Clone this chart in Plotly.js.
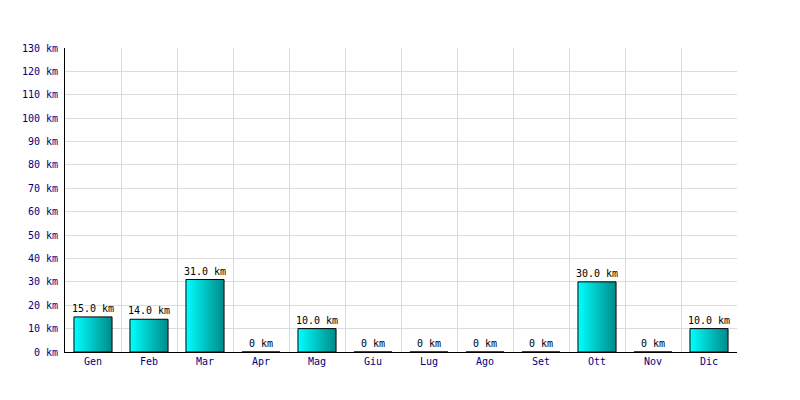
<!DOCTYPE html>
<html>
<head>
<meta charset="utf-8">
<script src="https://cdn.plot.ly/plotly-3.0.1.min.js"></script>
<style>html,body{margin:0;padding:0;background:#fff;}#chart{width:800px;height:400px;}</style>
</head>
<body>
<div id="chart"></div>
<script>
const months = ["Gen","Feb","Mar","Apr","Mag","Giu","Lug","Ago","Set","Ott","Nov","Dic"];
const distances = [15, 14, 31, 0, 10, 0, 0, 0, 0, 30, 0, 10];
const yTicks = [0,10,20,30,40,50,60,70,80,90,100,110,120,130];
const yTickLabels = yTicks.map(v => v + " km");

const labels = distances.map(v => v === 0 ? "0 km" : v.toFixed(1) + " km");
const font = "DejaVu Sans Mono, monospace";

const trace = {
  type: "bar",
  x: months,
  y: distances,
  text: labels,
  textposition: "outside",
  constraintext: "none",
  cliponaxis: false,
  textfont: {family: font, size: 10, color: "#000000"},
  outsidetextfont: {family: font, size: 10, color: "#000000"},
  marker: {color: "#00c8c8", line: {color: "#000000", width: 1}},
  width: 0.68,
  hoverinfo: "none"
};

const layout = {
  width: 800, height: 400,
  margin: {l: 65, r: 63, t: 48, b: 48},
  paper_bgcolor: "#ffffff",
  plot_bgcolor: "#ffffff",
  showlegend: false,
  font: {family: font, size: 10, color: "#000080"},
  xaxis: {
    type: "category",
    tickson: "boundaries",
    showgrid: true, gridcolor: "#dcdcdc", gridwidth: 1,
    showline: true, linecolor: "#000000", linewidth: 1,
    ticks: "", zeroline: false,
    tickfont: {family: font, size: 10, color: "#000080"},
    range: [-0.5, 11.5]
  },
  yaxis: {
    range: [0, 130],
    tickmode: "array",
    tickvals: yTicks,
    ticktext: yTickLabels,
    ticklabelstandoff: 4,
    showgrid: true, gridcolor: "#dcdcdc", gridwidth: 1,
    showline: true, linecolor: "#000000", linewidth: 1,
    zeroline: false, ticks: "",
    tickfont: {family: font, size: 10, color: "#000080"}
  }
};

Plotly.newPlot("chart", [trace], layout, {displayModeBar: false, staticPlot: true}).then(function(gd){
  const svg = gd.querySelector("svg.main-svg");
  const ns = "http://www.w3.org/2000/svg";
  let defs = svg.querySelector("defs");
  if (!defs) { defs = document.createElementNS(ns, "defs"); svg.insertBefore(defs, svg.firstChild); }
  const grad = document.createElementNS(ns, "linearGradient");
  grad.setAttribute("id", "barGrad");
  grad.setAttribute("x1", "0"); grad.setAttribute("y1", "0");
  grad.setAttribute("x2", "1"); grad.setAttribute("y2", "0");
  [["0", "#00ffff"], ["1", "#008a8a"]].forEach(function(s){
    const st = document.createElementNS(ns, "stop");
    st.setAttribute("offset", s[0]);
    st.setAttribute("stop-color", s[1]);
    grad.appendChild(st);
  });
  defs.appendChild(grad);
  gd.querySelectorAll(".bars .point path").forEach(function(p){
    p.style.fill = "url(#barGrad)";
  });
});
</script>
</body>
</html>
